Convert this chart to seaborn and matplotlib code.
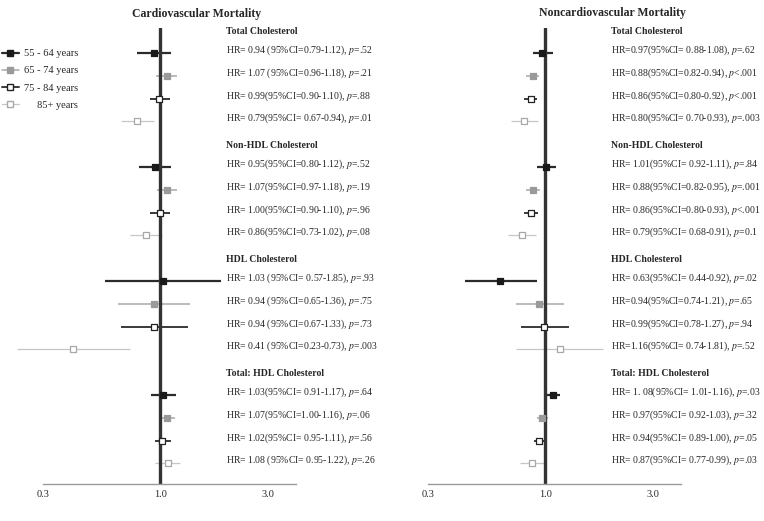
import numpy as np
import pandas as pd
import matplotlib
matplotlib.use("Agg")
from matplotlib import pyplot as plt
from matplotlib.lines import Line2D
import seaborn as sns

ages = ["55 - 64 years", "65 - 74 years", "75 - 84 years", "85+ years"]
measures = ["Total Cholesterol", "Non-HDL Cholesterol", "HDL Cholesterol", "Total: HDL Cholesterol"]

# cardiovascular mortality, order: measure then age group
cv_hr = [0.94, 1.07, 0.99, 0.79, 0.95, 1.07, 1.00, 0.86, 1.03, 0.94, 0.94, 0.41, 1.03, 1.07, 1.02, 1.08]
cv_lo = [0.79, 0.96, 0.90, 0.67, 0.80, 0.97, 0.90, 0.73, 0.57, 0.65, 0.67, 0.23, 0.91, 1.00, 0.95, 0.95]
cv_hi = [1.12, 1.18, 1.10, 0.94, 1.12, 1.18, 1.10, 1.02, 1.85, 1.36, 1.33, 0.73, 1.17, 1.16, 1.11, 1.22]
cv_text = [
    "HR= 0.94 (95%CI=0.79-1.12), p=.52",
    "HR= 1.07 (95%CI=0.96-1.18), p=.21",
    "HR= 0.99(95%CI=0.90-1.10), p=.88",
    "HR= 0.79(95%CI= 0.67-0.94), p=.01",
    "HR= 0.95(95%CI=0.80-1.12), p=.52",
    "HR= 1.07(95%CI=0.97-1.18), p=.19",
    "HR= 1.00(95%CI=0.90-1.10), p=.96",
    "HR= 0.86(95%CI=0.73-1.02), p=.08",
    "HR= 1.03 (95%CI= 0.57-1.85), p=.93",
    "HR= 0.94 (95%CI=0.65-1.36), p=.75",
    "HR= 0.94 (95%CI=0.67-1.33), p=.73",
    "HR= 0.41 (95%CI=0.23-0.73), p=.003",
    "HR= 1.03(95%CI= 0.91-1.17), p=.64",
    "HR= 1.07(95%CI=1.00-1.16), p=.06",
    "HR= 1.02(95%CI= 0.95-1.11), p=.56",
    "HR= 1.08 (95%CI= 0.95-1.22), p=.26",
]

# noncardiovascular mortality
ncv_hr = [0.97, 0.88, 0.86, 0.80, 1.01, 0.88, 0.86, 0.79, 0.63, 0.94, 0.99, 1.16, 1.08, 0.97, 0.94, 0.87]
ncv_lo = [0.88, 0.82, 0.80, 0.70, 0.92, 0.82, 0.80, 0.68, 0.44, 0.74, 0.78, 0.74, 1.01, 0.92, 0.89, 0.77]
ncv_hi = [1.08, 0.94, 0.92, 0.93, 1.11, 0.95, 0.93, 0.91, 0.92, 1.21, 1.27, 1.81, 1.16, 1.03, 1.00, 0.99]
ncv_text = [
    "HR=0.97(95%CI= 0.88-1.08), p=.62",
    "HR=0.88(95%CI=0.82-0.94), p<.001",
    "HR=0.86(95%CI=0.80-0.92), p<.001",
    "HR=0.80(95%CI= 0.70-0.93), p=.003",
    "HR= 1.01(95%CI= 0.92-1.11), p=.84",
    "HR= 0.88(95%CI=0.82-0.95), p=.001",
    "HR= 0.86(95%CI=0.80-0.93), p<.001",
    "HR= 0.79(95%CI= 0.68-0.91), p=0.1",
    "HR= 0.63(95%CI= 0.44-0.92), p=.02",
    "HR=0.94(95%CI=0.74-1.21), p=.65",
    "HR=0.99(95%CI=0.78-1.27), p=.94",
    "HR=1.16(95%CI= 0.74-1.81), p=.52",
    "HR= 1. 08(95%CI= 1.01-1.16), p=.03",
    "HR= 0.97(95%CI= 0.92-1.03), p=.32",
    "HR= 0.94(95%CI= 0.89-1.00), p=.05",
    "HR= 0.87(95%CI= 0.77-0.99), p=.03",
]

styles = {
    "55 - 64 years": dict(line="#2b2b2b", face="#1a1a1a", edge="#1a1a1a", lw=1.6),
    "65 - 74 years": dict(line="#a8a8a8", face="#9a9a9a", edge="#9a9a9a", lw=1.1),
    "75 - 84 years": dict(line="#3a3a3a", face="white", edge="#222222", lw=1.4),
    "85+ years": dict(line="#c6c6c6", face="white", edge="#a8a8a8", lw=0.9),
}


def make_frame(hr, lo, hi, text):
    df = pd.DataFrame({
        "measure": np.repeat(measures, len(ages)),
        "age": np.tile(ages, len(measures)),
        "hr": hr, "lo": lo, "hi": hi, "text": text,
    })
    g = df["measure"].map({m: i for i, m in enumerate(measures)})
    r = df["age"].map({a: i for i, a in enumerate(ages)})
    df["y"] = g * 5 + r
    return df


def draw_panel(ax, df):
    ax.axvline(1.0, color="#333333", lw=2.4, zorder=2.5)
    for age in ages:
        sub = df[df["age"] == age]
        st = styles[age]
        ax.hlines(sub["y"], sub["lo"], sub["hi"], color=st["line"], lw=st["lw"], zorder=2)
        sns.scatterplot(data=sub, x="hr", y="y", marker="s", s=18, color=st["face"],
                        edgecolor=st["edge"], linewidth=0.9, ax=ax, zorder=3, legend=False)

    ax.set_xscale("log")
    ax.set_xlim(0.2, 4.0)
    ax.set_ylim(18.9, -1.1)
    for s in ["left", "top", "right"]:
        ax.spines[s].set_visible(False)
    ax.spines["bottom"].set_bounds(0.3, 4.0)
    ax.spines["bottom"].set_color("#9a9a9a")
    ax.spines["bottom"].set_linewidth(1.0)
    ax.set_xticks([0.3, 1.0, 3.0])
    ax.set_xticklabels(["0.3", "1.0", "3.0"])
    ax.set_xticks([0.4, 0.5, 0.6, 0.7, 0.8, 0.9, 4.0], minor=True)
    ax.xaxis.set_minor_formatter(plt.NullFormatter())
    ax.tick_params(axis="x", which="both", direction="inout", length=3, width=0.8,
                   color="#555555", labelsize=7.5, pad=3)
    ax.set_yticks([])
    ax.set_xlabel("")
    ax.set_ylabel("")

    trans = ax.get_yaxis_transform()
    for gi, m in enumerate(measures):
        ax.text(0.762, gi * 5 - 0.95, m, transform=trans, fontsize=7, fontweight="bold",
                ha="left", va="center", clip_on=False)
    for _, row in df.iterrows():
        label = row["text"].replace(", p", ", $p$")
        ax.text(0.762, row["y"] - 0.12, label, transform=trans, fontsize=7,
                ha="left", va="center", clip_on=False)


def main():
    sns.set_style("white")
    plt.rcParams["font.family"] = ["Liberation Serif", "DejaVu Serif"]
    plt.rcParams["mathtext.fontset"] = "stix"

    cv = make_frame(cv_hr, cv_lo, cv_hi, cv_text)
    ncv = make_frame(ncv_hr, ncv_lo, ncv_hi, ncv_text)

    fig = plt.figure(figsize=(7.64, 5.21), dpi=100)
    W, H = 764.0, 521.0
    bottom = (H - 484) / H
    height = (484 - 28) / H
    ax1 = fig.add_axes([3 / W, bottom, 293 / W, height])
    ax2 = fig.add_axes([388 / W, bottom, 293 / W, height])

    draw_panel(ax1, cv)
    draw_panel(ax2, ncv)

    fig.text(197 / W, 1 - 14 / H, "Cardiovascular Mortality", ha="center", va="center",
             fontsize=8.5, fontweight="bold")
    fig.text(612 / W, 1 - 13 / H, "Noncardiovascular Mortality", ha="center", va="center",
             fontsize=8.5, fontweight="bold")

    handles = []
    for age in ages:
        st = styles[age]
        handles.append(Line2D([0], [0], color=st["line"], lw=st["lw"], marker="s", markersize=4,
                              markerfacecolor=st["face"], markeredgecolor=st["edge"]))
    leg_labels = ["55 - 64 years", "65 - 74 years", "75 - 84 years", "     85+ years"]
    fig.legend(handles, leg_labels, loc="upper left", bbox_to_anchor=(0.0, 1 - 47 / H),
               frameon=False, fontsize=7.5, handlelength=1.6, handletextpad=0.5,
               labelspacing=0.75, borderaxespad=0, borderpad=0.2)

    fig.savefig("out.png", dpi=100)


if __name__ == '__main__':
    main()
